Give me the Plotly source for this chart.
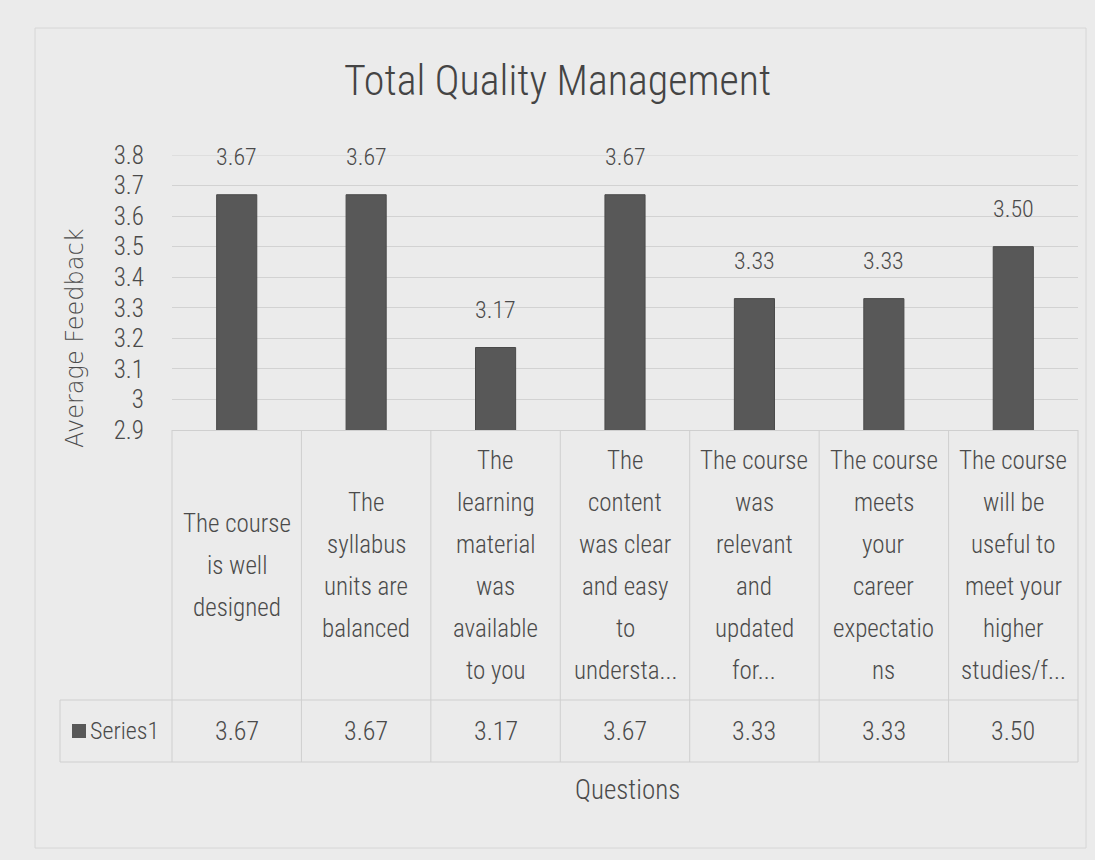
import plotly.graph_objects as go

# ---- data ----
title_text = "Total Quality Management"
y_title = "Average Feedback"
x_title = "Questions"
series_name = "Series1"
categories = [
    "The course<br>is well<br>designed",
    "The<br>syllabus<br>units are<br>balanced",
    "The<br>learning<br>material<br>was<br>available<br>to you",
    "The<br>content<br>was clear<br>and easy<br>to<br>understa...",
    "The course<br>was<br>relevant<br>and<br>updated<br>for...",
    "The course<br>meets<br>your<br>career<br>expectatio<br>ns",
    "The course<br>will be<br>useful to<br>meet your<br>higher<br>studies/f...",
]
values = [3.67, 3.67, 3.17, 3.67, 3.33, 3.33, 3.50]
value_labels = ["3.67", "3.67", "3.17", "3.67", "3.33", "3.33", "3.50"]
y_tickvals = [2.9, 3.0, 3.1, 3.2, 3.3, 3.4, 3.5, 3.6, 3.7, 3.8]
y_ticktext = ["2.9", "3", "3.1", "3.2", "3.3", "3.4", "3.5", "3.6", "3.7", "3.8"]

# ---- layout geometry ----
W, H = 1095, 860
L, R, T, B = 172, 17, 155, 430
PW, PH = W - L - R, H - T - B
FONT = "Roboto Condensed, Liberation Sans Narrow, DejaVu Sans Condensed, sans-serif"
TXT = "#4a4a4a"
LINE = "#cfcfcf"
WT = 300
n = len(categories)


def py(p):  # pixel y -> paper y
    return (H - B - p) / PH


def px(p):  # pixel x -> paper x
    return (p - L) / PW


def f(size, color=TXT, family=FONT):
    return dict(family=family, size=size, color=color, weight=WT)


fig = go.Figure()
fig.add_trace(go.Bar(
    x=list(range(n)), y=values, width=0.31,
    marker=dict(color="#585858", line=dict(color="#4a4a4a", width=1)),
    name=series_name, showlegend=False,
))

annotations = []
shapes = []

# top gridline (at the range edge)
shapes.append(dict(type="line", xref="paper", yref="y", x0=0, x1=1,
                   y0=y_tickvals[-1], y1=y_tickvals[-1], line=dict(color="#d2d2d2", width=1),
                   layer="below"))

# data labels above bars
for i, (v, lab) in enumerate(zip(values, value_labels)):
    annotations.append(dict(x=i, y=v, xref="x", yref="y", text=lab, showarrow=False,
                            yshift=38, font=f(24)))

# table: category labels
cell_mid, spacing = 565, 42
for i, cat in enumerate(categories):
    lines = cat.split("<br>")
    m = len(lines)
    for k, ln in enumerate(lines):
        yp = cell_mid + (k - (m - 1) / 2) * spacing
        annotations.append(dict(x=i, y=py(yp), xref="x", yref="paper", text=ln, showarrow=False,
                                xanchor="center", yanchor="middle", font=f(25)))
    annotations.append(dict(x=i, y=py(731), xref="x", yref="paper", text=value_labels[i],
                            showarrow=False, xanchor="center", yanchor="middle", font=f(26)))

# legend key in table
shapes.append(dict(type="rect", xref="paper", yref="paper", x0=px(72), x1=px(86),
                   y0=py(738), y1=py(724), fillcolor="#585858", line=dict(width=0)))
annotations.append(dict(x=px(88), y=py(731), xref="paper", yref="paper", text=series_name,
                        showarrow=False, xanchor="left", yanchor="middle", font=f(24)))

# table lines
row_mid, row_bot = 700, 762
for i in range(n + 1):
    xb = i / n
    shapes.append(dict(type="line", xref="paper", yref="paper", x0=xb, x1=xb,
                       y0=0, y1=py(row_bot), line=dict(color=LINE, width=1)))
shapes.append(dict(type="line", xref="paper", yref="paper", x0=px(60), x1=1,
                   y0=py(row_mid), y1=py(row_mid), line=dict(color=LINE, width=1)))
shapes.append(dict(type="line", xref="paper", yref="paper", x0=px(60), x1=1,
                   y0=py(row_bot), y1=py(row_bot), line=dict(color=LINE, width=1)))
shapes.append(dict(type="line", xref="paper", yref="paper", x0=px(60), x1=px(60),
                   y0=py(row_mid), y1=py(row_bot), line=dict(color=LINE, width=1)))

# outer chart border
shapes.append(dict(type="rect", xref="paper", yref="paper", x0=px(35), x1=px(1086),
                   y0=py(848), y1=py(28), line=dict(color="#d6d6d6", width=1)))

# titles
annotations.append(dict(x=px(557), y=py(80), xref="paper", yref="paper", text=title_text,
                        showarrow=False, xanchor="center", yanchor="middle", font=f(42, "#444444")))
annotations.append(dict(x=px(627), y=py(790), xref="paper", yref="paper", text=x_title,
                        showarrow=False, xanchor="center", yanchor="middle", font=f(27)))
annotations.append(dict(x=px(75), y=py(338), xref="paper", yref="paper", text=y_title,
                        showarrow=False, textangle=-90, xanchor="center", yanchor="middle",
                        font=f(24, TXT, "DejaVu Sans, sans-serif")))

fig.update_layout(
    width=W, height=H,
    margin=dict(l=L, r=R, t=T, b=B),
    paper_bgcolor="#ebebeb", plot_bgcolor="#ebebeb",
    xaxis=dict(range=[-0.5, n - 0.5], showticklabels=False, showgrid=False, zeroline=False,
               showline=True, linecolor=LINE, ticks=""),
    yaxis=dict(range=[2.9, 3.8], tickvals=y_tickvals, ticktext=y_ticktext,
               showgrid=True, gridcolor="#d2d2d2", zeroline=False, showline=False,
               tickfont=f(25), ticks="", ticklabelstandoff=27),
    annotations=annotations, shapes=shapes,
    font=dict(family=FONT, color=TXT),
)

fig.write_html("out.html", config={"displayModeBar": False},
               post_script="document.body.style.margin='0px';document.body.style.overflow='hidden';")
